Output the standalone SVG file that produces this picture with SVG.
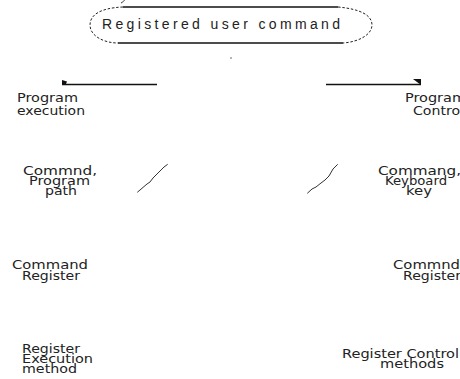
<svg xmlns="http://www.w3.org/2000/svg" width="460" height="379" viewBox="0 0 460 379">
<style>
text{font-family:"DejaVu Sans","Liberation Sans",Arial,sans-serif;font-size:13px;fill:#222;}
.big{font-family:"Liberation Sans",Arial,sans-serif;font-size:14px;}
.ln{stroke:#111;stroke-width:1.4;fill:none;}
.dash{stroke:#222;stroke-width:1;fill:none;stroke-dasharray:2.5 1.8;}
.diag{stroke:#333;stroke-width:1;fill:none;}
.head{fill:#111;stroke:none;}
</style>
<rect width="460" height="379" fill="#fff"/>
<g id="root">
<path class="dash" d="M123,7 C100,8 90,15 90,25 C90,36 104,43 118,43"/>
<path class="dash" d="M338,7 C360,9 372,15 372,25 C372,35 358,42 343,43"/>
<line class="ln" x1="123" y1="7" x2="338" y2="7"/>
<line class="ln" x1="118" y1="43" x2="343" y2="43"/>
<path class="diag" d="M121,3 C123,2 124,1 124.5,0"/>
<text class="big" x="102" y="29" textLength="238" lengthAdjust="spacing">Registered user command</text>
</g>
<g id="connectors">
<circle cx="231" cy="58" r="0.7" fill="#333"/>
<line class="ln" x1="62" y1="84.5" x2="157" y2="84.5"/>
<polygon class="head" points="62,80 67,81.5 65.5,85 62,85"/>
<line class="ln" x1="326" y1="84.5" x2="421" y2="84.5"/>
<polygon class="head" points="413,79 421,79 421,85"/>
<polyline class="diag" points="137.3,192.3 147,184 150,182 153,178 157,174 161,170 164,167 167.7,164.3"/>
<polyline class="diag" points="307.3,193.3 312,189 316,187 321,183 325,180 329,176 333,169 337.7,164.3"/>
</g>
<g id="program-execution">
<text x="17" y="102" textLength="61" lengthAdjust="spacingAndGlyphs">Program</text>
<text x="17" y="114.5" textLength="68" lengthAdjust="spacingAndGlyphs">execution</text>
</g>
<g id="program-control">
<text x="405" y="102" textLength="61" lengthAdjust="spacingAndGlyphs">Program</text>
<text x="413" y="114.5" textLength="51" lengthAdjust="spacingAndGlyphs">Control</text>
</g>
<g id="command-program-path">
<text x="23" y="175" textLength="74" lengthAdjust="spacingAndGlyphs">Commnd,</text>
<text x="29" y="185" textLength="61" lengthAdjust="spacingAndGlyphs">Program</text>
<text x="45" y="195" textLength="32" lengthAdjust="spacingAndGlyphs">path</text>
</g>
<g id="command-keyboard-key">
<text x="378" y="175" textLength="83" lengthAdjust="spacingAndGlyphs">Commang,</text>
<text x="385" y="185" textLength="62" lengthAdjust="spacingAndGlyphs">Keyboard</text>
<text x="406" y="195" textLength="26" lengthAdjust="spacingAndGlyphs">key</text>
</g>
<g id="command-register">
<text x="12" y="269" textLength="76" lengthAdjust="spacingAndGlyphs">Command</text>
<text x="22" y="280" textLength="58" lengthAdjust="spacingAndGlyphs">Register</text>
</g>
<g id="commnd-register">
<text x="393" y="269" textLength="67" lengthAdjust="spacingAndGlyphs">Commnd</text>
<text x="403" y="280" textLength="58" lengthAdjust="spacingAndGlyphs">Register</text>
</g>
<g id="register-execution-method">
<text x="22" y="353" textLength="58" lengthAdjust="spacingAndGlyphs">Register</text>
<text x="22" y="363" textLength="71" lengthAdjust="spacingAndGlyphs">Execution</text>
<text x="22" y="373" textLength="55" lengthAdjust="spacingAndGlyphs">method</text>
</g>
<g id="register-control-methods">
<text x="342" y="358" textLength="117" lengthAdjust="spacingAndGlyphs">Register Control</text>
<text x="380" y="368" textLength="64" lengthAdjust="spacingAndGlyphs">methods</text>
</g>
</svg>
